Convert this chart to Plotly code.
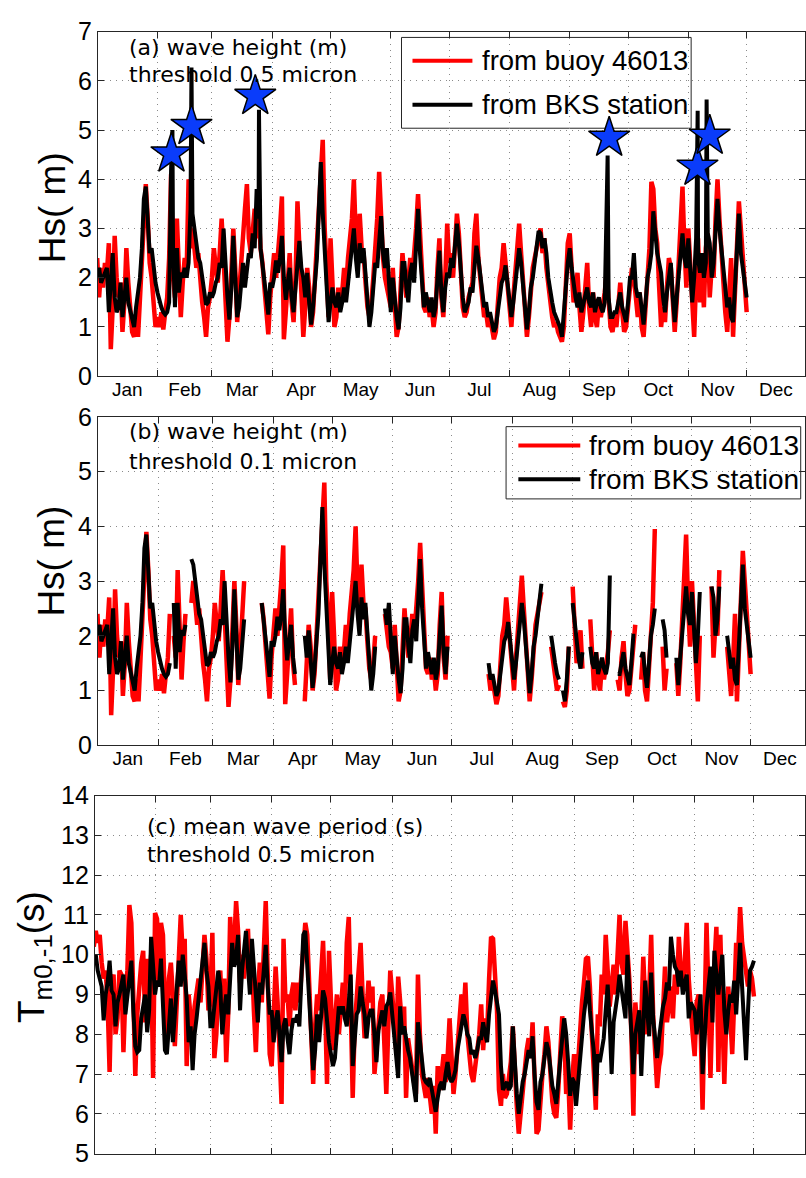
import numpy as np
import pandas as pd
import plotly.graph_objects as go

W, H = 806, 1178
YEAR_START = pd.Timestamp("2013-01-01")

# ---------------- data (one value per day from Jan 1) ----------------
# (a)/(b) significant wave height from buoy 46013 (m)
buoy_hs = [
    2.4, 1.6, 2.2, 1.8, 2.3, 2.1, 2.7, 0.55, 1.4, 2.85,
    2.0, 1.6, 1.9, 0.9, 1.5, 2.6, 1.9, 1.4, 0.9, 0.8,
    1.2, 0.8, 1.6, 2.5, 3.5, 3.9, 3.2, 2.3, 2.0, 1.5,
    1.0, 1.2, 1.0, 1.3, 0.95, 1.3, 1.6, 2.4, 4.1, 2.0,
    1.6, 3.2, 2.2, 1.2, 1.9, 2.4, 2.1, 4.0, 2.6, 3.0,
    2.6, 2.2, 2.5, 1.8, 1.5, 1.2, 0.8, 1.4, 1.6, 2.0,
    2.6, 2.2, 1.9, 2.5, 3.2, 2.4, 1.5, 0.7, 1.2, 2.2,
    3.0, 2.2, 1.1, 1.7, 2.4, 3.0, 3.4, 3.9, 2.8, 2.5,
    3.0, 3.4, 2.8, 3.4, 2.6, 2.3, 1.8, 1.2, 0.85, 1.6,
    2.2, 2.5, 2.0, 2.4, 3.0, 3.65, 0.75, 1.3, 2.0, 2.5,
    1.5, 1.1, 2.0, 3.55, 2.6, 1.7, 0.8, 1.4, 2.2, 1.8,
    1.0, 1.3, 2.0, 2.7, 3.5, 4.1, 4.8, 3.0, 2.3, 1.2,
    2.8, 2.0, 1.0, 1.2, 1.8, 1.5, 1.7, 2.2, 1.8, 2.4,
    2.8, 3.2, 4.0, 2.8, 2.3, 3.3, 2.6, 2.5, 1.9, 1.4,
    1.2, 1.5, 2.0, 2.6, 3.2, 4.15, 3.2, 2.4, 2.0, 1.8,
    1.7, 1.4, 2.2, 1.3, 0.8, 1.0, 1.7, 2.5, 2.0, 1.6,
    1.9, 2.4, 2.0, 2.4, 3.0, 3.7, 2.8, 2.0, 1.4, 1.3,
    1.6, 1.2, 1.4, 1.0, 1.3, 2.2, 2.8, 1.6, 1.2, 2.0,
    3.1, 2.3, 2.5, 2.0, 2.8, 3.3, 2.9, 2.0, 1.4, 1.2,
    1.3, 1.6, 1.8, 1.9, 2.9, 3.3, 2.4, 2.0, 1.6, 1.2,
    1.3, 1.0, 1.2, 0.9, 0.75, 0.9, 1.4, 2.0, 2.2, 2.7,
    2.3, 1.8, 1.4, 1.0, 1.6, 2.2, 2.5, 3.1, 2.5, 1.8,
    1.2, 0.8, 1.2, 1.8, 2.2, 2.4, 2.6, 2.8, 3.0, 2.5,
    2.8, 2.2, 1.8, 1.5, 1.2, 1.0, 1.1, 0.9, 0.8, 0.7,
    1.0, 1.8, 2.7, 2.9, 2.0, 1.5, 1.7, 2.1, 1.4, 0.9,
    1.3, 1.8, 2.3, 1.4, 1.0, 1.7, 1.2, 1.0, 1.5, 1.2,
    1.4, 1.7, 2.1, 1.6, 1.0, 0.9, 1.2, 1.0, 1.6, 1.9,
    1.3, 0.9, 1.0, 1.4, 2.0, 2.2, 2.0, 1.5, 1.2, 1.7,
    1.0, 0.8, 1.4, 2.2, 2.6, 3.95, 3.8, 3.0, 2.7, 1.8,
    1.0, 1.4, 1.1, 1.8, 2.4, 2.2, 1.5, 0.9, 1.5, 2.2,
    3.0, 3.85, 2.6, 1.8, 3.0, 2.2, 1.4, 0.8, 2.0, 2.8,
    1.5, 2.1, 1.4, 2.6, 2.9, 1.6, 2.2, 2.0, 3.2, 4.0,
    3.2, 2.5, 1.8, 1.3, 0.9, 1.5, 2.4, 0.8, 1.6, 2.5,
    3.55, 3.0, 2.4, 1.8, 1.3,
]
# significant wave height from BKS station (m)
bks_hs = [
    2.0, 2.2, 1.9, 2.0, 2.1, 2.2, 1.3, 1.9, 2.5, 1.6,
    1.3, 1.4, 1.9, 1.2, 1.6, 2.0, 1.5, 1.3, 1.1, 1.0,
    1.4, 1.7, 2.0, 2.6, 3.6, 3.85, 3.0, 2.5, 2.6, 2.2,
    1.9, 1.7, 1.5, 1.4, 1.3, 1.25, 1.3, 1.5, 4.2, 2.6,
    1.4, 2.6, 1.7, 2.1, 2.0, 2.2, 2.0, 2.3, 3.4, 3.3,
    3.0, 2.6, 2.4, 2.3, 2.0, 1.6, 1.45, 1.5, 1.7, 1.6,
    1.7, 1.9, 2.0, 2.3, 2.2, 3.0, 2.2, 1.6, 1.15, 1.8,
    2.85, 1.9, 1.2, 1.4, 1.9, 2.3, 1.8, 2.2, 2.5, 2.4,
    2.9, 2.6, 3.8, 3.2, 2.6, 2.2, 2.0, 1.6, 1.25, 1.9,
    1.8, 2.0, 2.35, 2.1, 2.4, 2.85, 2.0, 1.55, 1.9, 2.2,
    1.6, 1.3, 1.8, 2.4, 2.75, 2.2, 2.0, 1.6, 2.1, 1.5,
    1.05, 1.4, 1.8, 2.4, 3.4, 4.35, 3.3, 2.6, 2.0, 1.1,
    1.5, 1.8, 1.5, 1.4, 1.7, 1.3, 1.5, 1.8, 1.5, 1.9,
    2.2, 2.5, 3.0, 2.4, 2.0, 2.7, 2.3, 2.6, 2.0, 1.6,
    1.0, 1.3, 1.8, 2.3, 2.2, 2.8, 3.25, 2.5, 2.2, 2.6,
    2.0, 1.3, 2.0, 1.5, 1.2, 0.95, 1.4, 2.3, 2.3, 1.8,
    1.5, 2.1, 2.3, 1.9, 2.6, 3.4, 2.5, 1.9, 1.4, 1.7,
    1.5, 1.3, 1.6, 1.2, 1.4, 2.0, 2.55, 1.7, 1.3, 1.8,
    2.1, 2.0, 2.4, 2.2, 2.6, 3.1, 2.7, 2.0, 1.6, 1.3,
    1.4, 1.5, 1.8, 1.7, 2.2, 2.65, 2.4, 2.1, 1.8, 1.4,
    1.5, 1.2, 1.3, 1.1, 0.9, 1.0, 1.3, 1.6, 1.9, 2.0,
    2.25, 1.9, 1.6, 1.2, 1.5, 1.9, 2.2, 2.6, 2.3, 1.9,
    1.4, 0.95, 1.3, 1.8, 2.0, 2.3, 2.5, 2.95, 2.9, 2.6,
    2.8, 2.5, 2.0, 1.7, 1.5, 1.3, 1.2, 1.1, 1.0, 0.8,
    1.2, 1.8, 2.3, 2.6, 2.2, 1.8, 1.6, 1.4, 1.7, 1.3,
    1.5, 1.7, 1.8, 1.5, 1.4, 1.7, 1.3, 1.5, 1.6, 1.4,
    1.3, 1.5, 3.1, 1.6, 1.2, 1.2, 1.3, 1.3, 1.5, 1.7,
    1.4, 1.2, 1.1, 1.5, 2.0, 2.0, 2.5, 1.8, 1.6, 1.7,
    1.3, 1.05, 1.5, 2.0, 2.2, 2.5, 3.35, 2.8, 2.5, 2.3,
    2.1, 1.6, 1.3, 1.7, 2.0, 2.3, 1.6, 1.1, 1.6, 2.0,
    2.5, 2.9, 2.4, 2.2, 2.8, 2.0, 1.5, 2.0, 2.8, 2.4,
    2.1, 2.5, 2.0, 2.3, 2.9, 2.7, 2.0, 2.3, 2.9, 3.6,
    3.0, 2.6, 2.0, 1.7, 1.4, 1.6, 1.2, 1.1, 1.9, 2.6,
    3.3, 2.5, 2.2, 1.9, 1.6,
]
# short spikes in BKS (threshold 0.5 micron) record: day of year, Hs (m)
spike_day = [38.7, 48.5, 83.2, 262.5, 308.8, 313.4]
spike_hs = [5.0, 6.27, 5.41, 4.48, 5.39, 5.62]
# star markers: day of year, Hs (m)
star_day = [38.2, 48.5, 81.3, 263.3, 308.7, 315.0]
star_hs = [4.52, 5.08, 5.69, 4.84, 4.25, 4.88]
# (b) periods where BKS data exist with 0.1 micron threshold (day of year)
avail_start = [0, 39, 42, 48, 84, 106, 147, 200, 232, 238, 243, 252, 266, 278, 289, 296, 314, 322]
avail_end = [37, 41, 45, 75, 101, 142, 179, 227, 236, 241, 248, 262, 275, 285, 291, 308, 318, 334]

# (c) mean wave period Tm0,-1 (s)
buoy_tm = [
    10.2, 10.6, 10.3, 10.5, 9.8, 9.4, 9.6, 8.8, 7.05, 9.3,
    9.5, 8.0, 8.4, 9.6, 9.5, 7.55, 9.0, 9.6, 11.25, 10.8,
    9.0, 6.95, 8.5, 9.4, 9.8, 10.1, 8.3, 9.9, 8.9, 10.0,
    6.9, 11.05, 10.9, 9.2, 10.8, 10.5, 8.7, 8.0, 9.4, 9.8,
    9.0, 7.7, 8.9, 9.6, 11.0, 10.0, 10.4, 7.2, 9.0, 8.4,
    7.5, 8.7, 9.0, 9.4, 8.8, 9.6, 10.5, 9.9, 8.6, 9.0,
    10.55, 7.4, 8.0, 9.2, 9.6, 8.3, 9.4, 7.3, 8.5, 10.95,
    9.8, 10.2, 11.35, 10.6, 9.3, 10.0, 9.4, 10.2, 10.65, 9.4,
    10.0, 8.6, 7.55, 9.0, 9.8, 8.8, 10.3, 11.35, 9.5, 7.5,
    7.2, 8.5, 9.7, 8.8, 7.6, 6.25, 10.4, 8.8, 9.0, 8.2,
    9.0, 9.3, 8.6, 9.3, 8.8, 9.6, 10.4, 10.8, 10.5, 9.0,
    8.0, 6.75, 8.2, 9.0, 8.6, 9.4, 10.35, 8.8, 6.75, 10.1,
    8.5, 7.6, 8.3, 9.0, 8.0, 8.8, 9.3, 8.5, 10.3, 10.95,
    9.0, 6.4, 8.2, 9.0, 9.4, 10.3, 9.0, 7.9, 8.6, 9.35,
    8.8, 9.2, 7.0, 7.6, 8.4, 8.8, 9.0, 7.8, 6.5, 8.2,
    9.6, 9.0, 8.4, 7.6, 9.45, 8.9, 8.2, 8.7, 6.4, 7.9,
    7.5, 7.0, 6.8, 6.5, 9.5, 8.0, 7.0, 6.7, 6.4, 6.9,
    6.3, 6.0, 6.7, 5.5, 7.2, 6.6, 7.0, 7.5, 6.8, 7.4,
    8.4, 7.2, 6.5, 7.0, 7.8, 8.6, 9.0, 8.4, 9.3, 8.0,
    7.5, 7.0, 6.8, 7.2, 7.6, 8.0, 8.75, 7.6, 8.4, 8.0,
    9.4, 10.45, 10.4, 9.5, 8.6, 6.6, 6.2, 7.0, 6.4, 6.5,
    7.0, 7.3, 8.2, 6.8, 6.2, 5.5, 6.0, 6.6, 7.2, 7.6,
    7.9, 7.4, 8.3, 6.4, 5.5, 5.6, 6.4, 7.0, 7.5, 8.2,
    7.8, 6.8, 6.3, 6.0, 5.9, 6.6, 7.6, 8.45, 8.0, 6.5,
    7.0, 5.6, 6.8, 7.5, 6.5, 7.4, 8.0, 8.8, 9.3, 9.9,
    9.95, 9.2, 8.0, 7.0, 6.1, 8.5, 8.2, 9.5, 9.0, 10.5,
    9.6, 8.7, 9.2, 9.75, 9.0, 10.2, 11.0, 9.8, 9.5, 10.85,
    10.0, 9.35, 8.0, 5.95, 8.8, 8.2, 7.5, 8.4, 9.95, 8.8,
    8.0, 9.0, 10.5, 8.5, 7.6, 6.65, 7.2, 7.5, 8.6, 9.7,
    8.3, 8.8, 9.2, 8.4, 9.5, 9.0, 10.45, 9.6, 9.2, 9.8,
    10.8, 9.4, 8.5, 8.0, 7.45, 8.8, 9.0, 8.2, 6.1, 8.3,
    10.8, 9.0, 6.9, 8.8, 9.6, 10.7, 7.05, 10.5, 8.6, 6.75,
    8.4, 9.2, 8.5, 7.5, 8.8, 10.3, 10.0, 11.2, 10.3, 9.9,
    9.4, 9.2, 9.6, 9.4, 8.95,
]
bks_tm = [
    9.9, 10.0, 9.6, 9.4, 9.2, 8.35, 9.0, 9.3, 9.85, 9.1,
    9.0, 8.2, 8.8, 9.0, 9.2, 9.5, 8.5, 8.9, 9.4, 9.85,
    8.6, 7.7, 7.55, 7.6, 8.4, 8.7, 9.0, 8.05, 8.6, 10.45,
    9.8, 9.0, 9.35, 9.2, 9.9, 8.4, 7.6, 7.5, 8.3, 8.9,
    7.8, 8.6, 9.0, 9.85, 9.2, 10.0, 9.5, 8.9, 7.8, 8.2,
    7.1, 8.0, 8.4, 8.9, 9.3, 9.8, 10.3, 9.6, 9.2, 8.2,
    8.2, 8.7, 9.2, 9.6, 9.2, 8.0, 8.6, 9.0, 8.5, 9.3,
    10.3, 9.7, 9.9, 10.5, 8.6, 9.6, 10.2, 10.6, 9.7, 9.0,
    10.4, 9.8, 9.0, 8.3, 9.3, 9.0, 9.6, 10.25, 9.2, 8.5,
    8.6, 7.8, 8.3, 8.6, 8.0, 7.3, 8.2, 8.4, 7.9, 7.5,
    8.1, 8.4, 8.3, 8.5, 8.2, 9.2, 10.5, 10.6, 9.6, 8.8,
    8.0, 7.1, 7.6, 8.5, 7.8, 8.6, 9.1, 8.9, 8.3, 7.8,
    7.5, 7.2, 7.4, 8.2, 8.7, 8.5, 8.7, 8.4, 8.2, 8.8,
    9.5, 7.2, 8.0, 8.5, 8.6, 9.2, 8.8, 8.5, 7.9, 8.4,
    8.6, 8.6, 8.0, 7.3, 8.1, 8.3, 8.6, 8.2, 8.7, 8.8,
    9.05, 8.5, 8.0, 7.5, 6.9, 8.7, 8.0, 8.2, 7.8, 7.6,
    7.4, 7.0, 6.7, 6.3, 8.3, 7.9, 7.4, 6.9, 6.8, 6.75,
    6.9, 6.6, 6.4, 6.05, 6.4, 6.7, 6.8, 6.6, 7.0, 7.3,
    6.9, 6.8, 6.9, 7.1, 7.6, 7.95, 8.2, 8.5, 8.3, 8.0,
    7.9, 7.5, 7.6, 7.4, 7.6, 7.9, 7.9, 8.3, 8.0, 7.8,
    8.5, 9.0, 9.35, 9.1, 8.8, 8.5, 7.2, 6.6, 6.7, 6.8,
    6.6, 6.7, 8.2, 7.2, 6.5, 6.0, 6.5, 6.8, 7.0, 7.3,
    7.6, 7.4, 7.95, 7.0, 6.3, 6.1, 6.8, 7.0, 7.4, 7.8,
    7.6, 7.0, 6.7, 6.5, 6.25, 6.8, 7.5, 7.9, 8.4, 8.0,
    7.3, 6.45, 6.9, 6.8, 6.2, 6.8, 7.2, 7.8, 8.5, 8.9,
    9.35, 8.6, 7.9, 7.55, 6.45, 7.5, 7.3, 7.6, 7.9, 8.6,
    9.25, 8.3, 7.0, 8.3, 8.6, 9.0, 9.5, 9.1, 8.8, 8.4,
    10.0, 9.0, 8.4, 7.0, 8.0, 8.3, 8.6, 6.95, 8.3, 9.35,
    8.6, 7.95, 9.55, 8.4, 7.9, 7.4, 7.9, 8.4, 8.7, 8.9,
    9.3, 9.1, 10.45, 10.0, 9.7, 9.6, 9.2, 9.6, 9.0, 9.3,
    9.5, 8.4, 8.8, 8.7, 8.6, 8.0, 8.4, 9.0, 7.0, 8.0,
    8.7, 9.2, 9.7, 8.3, 10.1, 9.5, 9.0, 9.5, 10.0, 8.6,
    8.0, 8.6, 9.0, 8.8, 9.35, 8.5, 9.4, 10.3, 9.2, 8.1,
    7.35, 8.6, 9.6, 9.7, 9.85,
]

panel_titles = [
    ("(a) wave height (m)", "threshold 0.5 micron"),
    ("(b) wave height (m)", "threshold 0.1 micron"),
    ("(c) mean wave period (s)", "threshold 0.5 micron"),
]
legend_labels = ["from buoy 46013", "from BKS station"]

# ---------------- helpers ----------------
def to_date(days):
    return YEAR_START + pd.to_timedelta(np.asarray(days, dtype=float), unit="D")

def px_x(x):
    return x / W

def px_y(y):
    return 1 - y / H

RED = "#ff0000"
BLACK = "#000000"
AX = "#262626"
FONT = "Liberation Sans"
RED_W, BLACK_W = 4.5, 4

fig = go.Figure()

# ---- panel (a)
d_buoy = np.arange(len(buoy_hs))
d_bks = np.arange(len(bks_hs))
fig.add_trace(go.Scatter(x=to_date(d_buoy), y=buoy_hs, mode="lines",
                         line=dict(color=RED, width=RED_W), xaxis="x", yaxis="y",
                         showlegend=False))
all_days = np.concatenate([d_bks.astype(float), np.asarray(spike_day, float)])
all_vals = np.concatenate([np.asarray(bks_hs, float), np.asarray(spike_hs, float)])
order = np.argsort(all_days, kind="stable")
fig.add_trace(go.Scatter(x=to_date(all_days[order]), y=all_vals[order], mode="lines",
                         line=dict(color=BLACK, width=BLACK_W), xaxis="x", yaxis="y",
                         showlegend=False))
fig.add_trace(go.Scatter(x=to_date(star_day), y=star_hs, mode="markers",
                         marker=dict(symbol="star", size=31, color="#0a3cfa",
                                     line=dict(color="black", width=1.5)),
                         xaxis="x", yaxis="y", showlegend=False, cliponaxis=False))

# ---- panel (b)
def avail_mask(days):
    m = np.zeros(len(days), bool)
    for s, e in zip(avail_start, avail_end):
        m |= (days >= s) & (days <= e)
    return m

buoy_b = np.where(avail_mask(d_buoy), np.asarray(buoy_hs, float), np.nan)
bks_b = np.where(avail_mask(d_bks), np.asarray(bks_hs, float), np.nan)
fig.add_trace(go.Scatter(x=to_date(d_buoy), y=buoy_b, mode="lines",
                         line=dict(color=RED, width=RED_W), xaxis="x2", yaxis="y2",
                         connectgaps=False, showlegend=False))
fig.add_trace(go.Scatter(x=to_date(d_bks), y=bks_b, mode="lines",
                         line=dict(color=BLACK, width=BLACK_W), xaxis="x2", yaxis="y2",
                         connectgaps=False, showlegend=False))

# ---- panel (c)
fig.add_trace(go.Scatter(x=to_date(np.arange(len(buoy_tm))), y=buoy_tm, mode="lines",
                         line=dict(color=RED, width=RED_W), xaxis="x3", yaxis="y3",
                         showlegend=False))
fig.add_trace(go.Scatter(x=to_date(np.arange(len(bks_tm))), y=bks_tm, mode="lines",
                         line=dict(color=BLACK, width=BLACK_W), xaxis="x3", yaxis="y3",
                         showlegend=False))

# ---------------- axes ----------------
common = dict(showline=True, linecolor=AX, linewidth=1, mirror="ticks",
              ticks="inside", ticklen=6, tickcolor=AX, tickwidth=1,
              showgrid=True, gridcolor="#8a8a8a", griddash="1px,5px", gridwidth=1,
              zeroline=False, tickfont=dict(family=FONT, size=19, color="black"))

def xaxis(x0px, jan1px, pxday, y_anchor, labels=True):
    start = (x0px - jan1px) / pxday
    end = (W - jan1px) / pxday
    return dict(common, type="date", anchor=y_anchor,
                domain=[px_x(x0px), 1.0],
                range=[to_date(start), to_date(end)],
                tick0="2013-01-01", dtick="M1", tickformat="%b",
                ticklabelmode="period", showticklabels=labels,
                ticklabelstandoff=-4)

def yaxis(ytop, ybot, rng, x_anchor):
    return dict(common, anchor=x_anchor, domain=[px_y(ybot), px_y(ytop)],
                range=rng, dtick=1, tick0=0,
                tickfont=dict(family=FONT, size=25, color="black"),
                ticklabelstandoff=0)

fig.update_layout(
    width=W, height=H, margin=dict(l=0, r=0, t=0, b=0),
    paper_bgcolor="white", plot_bgcolor="white", showlegend=False,
    xaxis=xaxis(98, 97.3, 1.947, "y"),
    yaxis=yaxis(18, 371, [0, 7], "x"),
    xaxis2=xaxis(98, 97.6, 1.958, "y2"),
    yaxis2=yaxis(412.7, 749, [0, 6], "x2"),
    xaxis3=xaxis(95, 93.9, 1.979, "y3", labels=False),
    yaxis3=yaxis(800.7, 1167.3, [5, 14], "x3"),
)

# ---------------- annotations: titles ----------------
ann = []
title_pos = [(127, 34, 62), (127, 428, 458), (145, 832, 861)]
for (l1, l2), (xl, y1, y2) in zip(panel_titles, title_pos):
    for txt, yy in ((l1, y1), (l2, y2)):
        ann.append(dict(text=txt, x=px_x(xl), y=px_y(yy), xref="paper", yref="paper",
                        xanchor="left", yanchor="middle", showarrow=False,
                        font=dict(family="DejaVu Sans", size=22, color="black")))

# y-axis titles
for txt, yy in (("Hs( m)", 198), ("Hs( m)", 560)):
    ann.append(dict(text=txt, x=px_x(52), y=px_y(yy), xref="paper", yref="paper",
                    xanchor="center", yanchor="middle", textangle=-90, showarrow=False,
                    font=dict(family=FONT, size=37, color="black")))
ann.append(dict(text="T<sub>m0,-1</sub>(s)", x=px_x(34), y=px_y(966), xref="paper",
                yref="paper", xanchor="center", yanchor="middle", textangle=-90,
                showarrow=False, font=dict(family=FONT, size=37, color="black")))

# ---------------- legends (manual boxes) ----------------
shapes = []
legends = [
    dict(box=(402, 24, 692, 117), line_x=(413, 473), rows=(48, 93), tx=481, fs=27.5),
    dict(box=(506.7, 422.7, 801.7, 496.7), line_x=(519, 581), rows=(442, 476.7), tx=588, fs=28),
]
for lg in legends:
    x0, y0, x1, y1 = lg["box"]
    shapes.append(dict(type="rect", xref="paper", yref="paper",
                       x0=px_x(x0), x1=px_x(x1), y0=px_y(y1), y1=px_y(y0),
                       fillcolor="white", line=dict(color=AX, width=1), layer="between"))
    for color, ry, label in zip((RED, BLACK), lg["rows"], legend_labels):
        shapes.append(dict(type="line", xref="paper", yref="paper",
                           x0=px_x(lg["line_x"][0]), x1=px_x(lg["line_x"][1]),
                           y0=px_y(ry), y1=px_y(ry), line=dict(color=color, width=4),
                           layer="above"))
        ann.append(dict(text=label, x=px_x(lg["tx"]), y=px_y(ry), xref="paper",
                        yref="paper", xanchor="left", yanchor="middle", showarrow=False,
                        font=dict(family=FONT, size=lg["fs"], color="black")))

fig.update_layout(annotations=ann, shapes=shapes)
fig.write_html("out.html")
